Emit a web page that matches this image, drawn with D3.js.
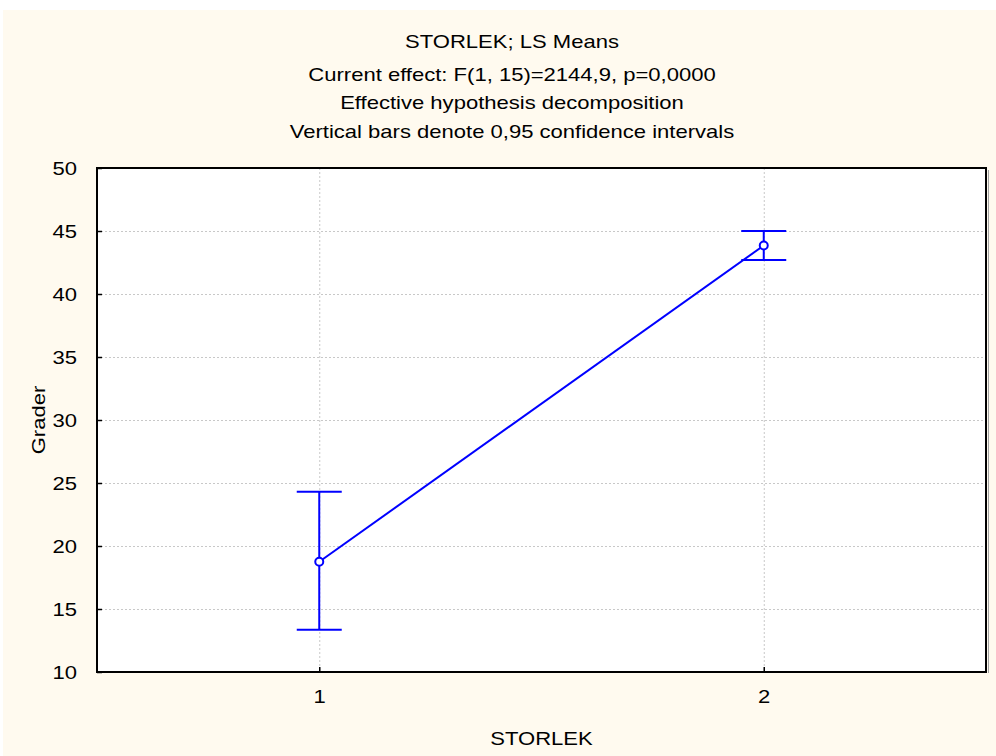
<!DOCTYPE html>
<html>
<head>
<meta charset="utf-8">
<script src="https://cdn.jsdelivr.net/npm/d3@7"></script>
<style>
  html, body { margin: 0; padding: 0; background: #ffffff; }
  svg { display: block; }
  text { font-family: "Liberation Sans", Arial, sans-serif; fill: #000; }
</style>
</head>
<body>
<svg id="chart" width="996" height="756"></svg>
<script>
// LS means of Grader by STORLEK with 0.95 confidence intervals
const categories = [1, 2];
const means = [18.75, 43.85];
const ciLower = [13.35, 42.7];
const ciUpper = [24.3, 45.0];
const yTicks = [10, 15, 20, 25, 30, 35, 40, 45, 50];
const titleLines = [
  "STORLEK; LS Means",
  "Current effect: F(1, 15)=2144,9, p=0,0000",
  "Effective hypothesis decomposition",
  "Vertical bars denote 0,95 confidence intervals"
];

const svg = d3.select("#chart");
const W = 996, H = 756;
const margin = { left: 97, top: 168 };
const plotR = 986, plotB = 672;
const FS = 19;      // text size
const SX = 1.16;    // horizontal stretch of the lettering

// cream page background
svg.append("rect").attr("x", 3).attr("y", 10).attr("width", W - 3).attr("height", H - 10)
  .attr("fill", "#fffaef");

const x = d3.scaleLinear().domain([0.5, 2.5]).range([margin.left, plotR]);
const y = d3.scaleLinear().domain([10, 50]).range([plotB, margin.top]);

// plot area
svg.append("rect").attr("x", margin.left).attr("y", margin.top)
  .attr("width", plotR - margin.left).attr("height", plotB - margin.top)
  .attr("fill", "#ffffff");

// grid lines
const grid = svg.append("g").attr("stroke", "#c8c8c8").attr("stroke-width", 1)
  .attr("stroke-dasharray", "2,2");
grid.selectAll("line.gy").data(yTicks.slice(1, -1)).join("line")
  .attr("x1", margin.left).attr("x2", plotR)
  .attr("y1", d => y(d) + 0.5).attr("y2", d => y(d) + 0.5);
grid.selectAll("line.gx").data(categories).join("line")
  .attr("y1", margin.top).attr("y2", plotB)
  .attr("x1", d => x(d) + 0.5).attr("x2", d => x(d) + 0.5);

// axes with inward ticks
const yAxis = d3.axisLeft(y).tickValues(yTicks).tickSize(-5)
  .tickFormat(d3.format("d"));
const gy = svg.append("g").attr("transform", `translate(${margin.left},0)`).call(yAxis);
gy.select(".domain").remove();
gy.selectAll("line").attr("stroke", "#000").attr("stroke-width", 1.5);
gy.selectAll("text").attr("font-size", FS).attr("x", -20 / SX)
  .attr("transform", `scale(${SX},1)`);

const xAxis = d3.axisBottom(x).tickValues(categories).tickSize(-5).tickPadding(18)
  .tickFormat(d3.format("d"));
const gx = svg.append("g").attr("transform", `translate(0,${plotB})`).call(xAxis);
gx.select(".domain").remove();
gx.selectAll("line").attr("stroke", "#000").attr("stroke-width", 1.5);
gx.selectAll("text").attr("font-size", FS).attr("transform", `scale(${SX},1)`);

// frame with a faint shadow on the right edge
svg.append("line").attr("x1", plotR + 2.5).attr("x2", plotR + 2.5)
  .attr("y1", margin.top + 2).attr("y2", plotB + 1)
  .attr("stroke", "#a0a0a0").attr("stroke-width", 1);
svg.append("rect").attr("x", margin.left).attr("y", margin.top)
  .attr("width", plotR - margin.left).attr("height", plotB - margin.top)
  .attr("fill", "none").attr("stroke", "#000").attr("stroke-width", 2);

// data
const data = categories.map((c, i) => ({ c, m: means[i], lo: ciLower[i], hi: ciUpper[i] }));
const blue = "#0000ff";
const capHalf = 22.5;

const eb = svg.append("g").attr("stroke", blue).attr("stroke-width", 2).attr("fill", "none");
eb.selectAll("line.v").data(data).join("line")
  .attr("x1", d => x(d.c)).attr("x2", d => x(d.c))
  .attr("y1", d => y(d.lo)).attr("y2", d => y(d.hi));
eb.selectAll("line.t").data(data).join("line")
  .attr("x1", d => x(d.c) - capHalf).attr("x2", d => x(d.c) + capHalf)
  .attr("y1", d => y(d.hi)).attr("y2", d => y(d.hi));
eb.selectAll("line.b").data(data).join("line")
  .attr("x1", d => x(d.c) - capHalf).attr("x2", d => x(d.c) + capHalf)
  .attr("y1", d => y(d.lo)).attr("y2", d => y(d.lo));

svg.append("path").datum(data)
  .attr("d", d3.line().x(d => x(d.c)).y(d => y(d.m)))
  .attr("stroke", blue).attr("stroke-width", 2).attr("fill", "none");

svg.selectAll("circle.pt").data(data).join("circle")
  .attr("cx", d => x(d.c)).attr("cy", d => y(d.m)).attr("r", 4)
  .attr("fill", "#fff").attr("stroke", blue).attr("stroke-width", 2);

// titles
const tY = [48, 81, 109, 138];
svg.selectAll("text.title").data(titleLines).join("text")
  .attr("class", "title")
  .attr("transform", (d, i) => `translate(512,${tY[i]}) scale(${SX},1)`)
  .attr("text-anchor", "middle").attr("font-size", FS)
  .text(d => d);

// axis labels
svg.append("text")
  .attr("transform", `translate(${(margin.left + plotR) / 2},745) scale(${SX},1)`)
  .attr("text-anchor", "middle").attr("font-size", FS).text("STORLEK");
svg.append("text").attr("transform", `translate(45,420) rotate(-90) scale(${SX},1)`)
  .attr("text-anchor", "middle").attr("font-size", FS).text("Grader");
</script>
</body>
</html>
